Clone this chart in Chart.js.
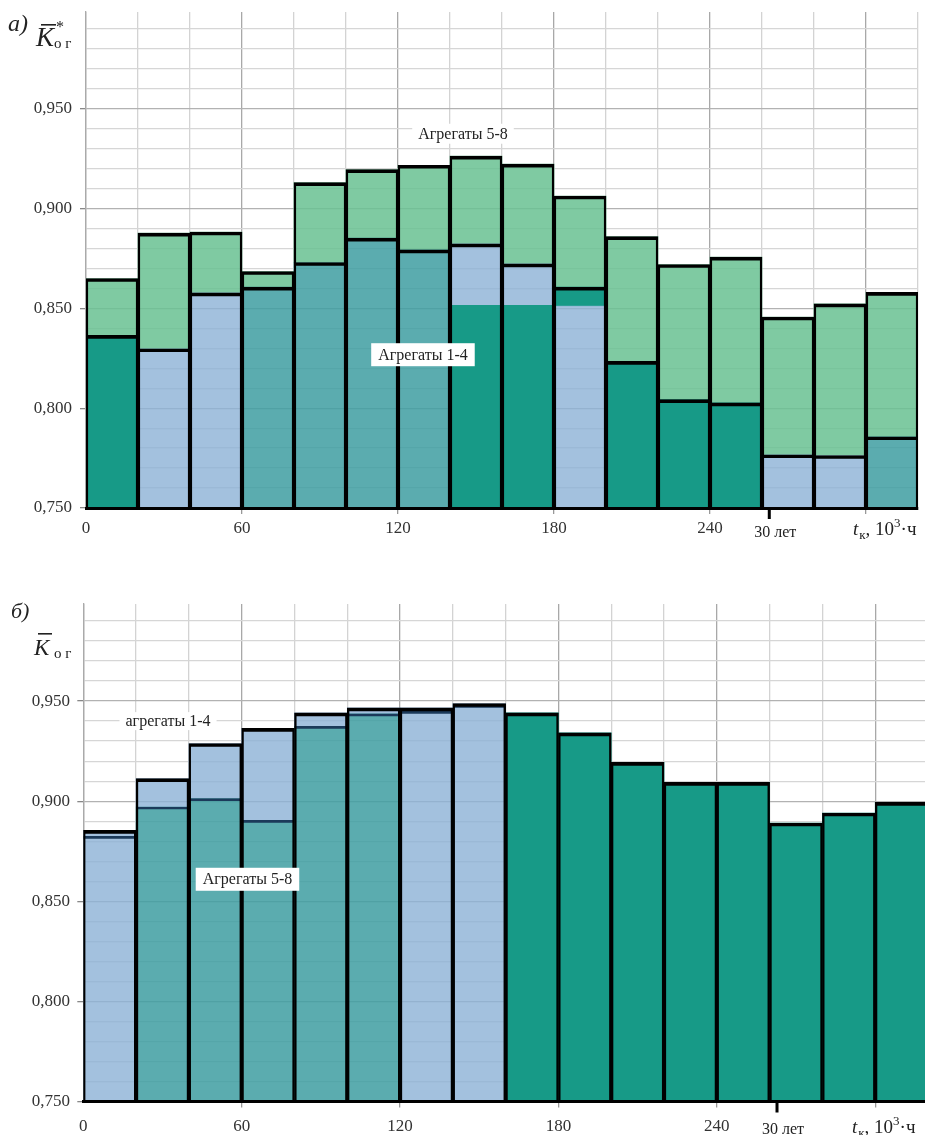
<!DOCTYPE html>
<html><head><meta charset="utf-8">
<script src="https://cdn.jsdelivr.net/npm/chart.js@4.4.1/dist/chart.umd.min.js"></script>
<style>
html,body{margin:0;padding:0;background:#fff;width:925px;height:1135px;overflow:hidden;position:relative;}
#wa{position:absolute;left:0;top:0;width:925px;height:545px;}
#wb{position:absolute;left:0;top:580px;width:935px;height:555px;}
canvas{display:block;}
</style></head><body>
<div id="wa"><canvas id="ca" width="925" height="545"></canvas></div>
<div id="wb"><canvas id="cb" width="935" height="555"></canvas></div>
<script>
// ---------- data ----------
// operating time bins, 10^3 h (centres of 20-unit intervals)
const binCenters = [10,30,50,70,90,110,130,150,170,190,210,230,250,270,290,310];
const xTickLabels = ['0','60','120','180','240'];
const yTickLabels = ['0,750','0,800','0,850','0,900','0,950'];

// panel а) : K*og
const aggr58A = [0.865,0.8877,0.8883,0.8685,0.913,0.9195,0.9217,0.9263,0.9223,0.9063,0.886,0.872,0.8757,0.8457,0.8523,0.858];
const aggr14A = [0.8365,0.8298,0.8578,0.8607,0.873,0.8852,0.8793,0.8823,0.8723,0.8607,0.8235,0.8043,0.8027,0.7767,0.7763,0.7857];
const splitA  = [null,null,null,null,null,null,null,0.8515,0.8515,0.8512,null,null,null,null,null,null];

// panel б) : Kog
const aggr14B = [0.8854,0.9113,0.9288,0.9364,0.9441,0.9466,0.9466,0.9488,null,null,null,null,null,null,null,null];
const aggr58B = [0.8824,0.8971,0.9013,0.8904,0.9374,0.9436,0.9449,0.9478,0.9441,0.9341,0.9194,0.9094,0.9094,0.8891,0.8941,0.8994];

const serviceLife = 262.8; // 30 years in 10^3 h

// ---------- styles ----------
const lowerKindA = ['teal','blue','blue','mix','mix','mix','mix','blue','blue','teal','teal','teal','teal','blue','blue','mix'];
const splitKindA = [null,null,null,null,null,null,null,'teal','teal','blue',null,null,null,null,null,null];
const lowerKindB = ['blue','mix','mix','mix','mix','mix','blue','blue','teal','teal','teal','teal','teal','teal','teal','teal'];
const COL = {
  green:'rgba(104,193,146,0.85)',
  blue:'rgba(140,177,214,0.8)',
  mix:'rgba(62,157,161,0.85)',
  teal:'#179a87'
};
const SERIF = '"Liberation Serif","Times New Roman",serif';
const BASE = 0.75, YMAX = 0.9985;

function isMajorY(v){ return Math.abs(Math.round(v*1000) % 50) < 1e-6; }

function buildScales(yPad, xPad, yWidth){
  const yTicks = []; for (let i=0;i<=24;i++) yTicks.push(+(BASE + i*0.01).toFixed(3));
  const xTicks = []; for (let v=0; v<=320; v+=20) xTicks.push(v);
  return {
    x:{type:'linear',min:0,max:320,offset:false,
      afterBuildTicks:s=>{s.ticks = xTicks.map(v=>({value:v}));},
      afterFit:s=>{s.height=30; s.paddingLeft=0; s.paddingRight=0; s.paddingTop=0; s.paddingBottom=0;},
      ticks:{autoSkip:false,maxRotation:0,padding:xPad,color:'#333',font:{family:SERIF,size:17},
        callback:v=>{const t=String(v); return xTickLabels.includes(t)?t:'';}},
      grid:{offset:false,color:c=>(c.tick && c.tick.value%60===0)?'#a8a8a8':'#d3d3d3',lineWidth:1.3,tickLength:6,
        tickColor:c=>(c.tick && c.tick.value%60===0 && c.tick.value>0)?'#999':'rgba(0,0,0,0)'},
      border:{display:true,color:'#000',width:3,z:2}
    },
    y:{type:'linear',min:BASE,max:YMAX,
      afterBuildTicks:s=>{s.ticks = yTicks.map(v=>({value:v}));},
      afterFit:s=>{s.width=yWidth; s.paddingTop=0; s.paddingBottom=0; s.paddingLeft=0; s.paddingRight=0;},
      ticks:{autoSkip:false,padding:yPad,color:'#333',font:{family:SERIF,size:17},
        callback:v=>{const t=v.toFixed(3).replace('.',','); return yTickLabels.includes(t)?t:'';}},
      grid:{color:c=>(c.tick && isMajorY(c.tick.value))?'#b2b2b2':'#d6d6d6',lineWidth:1.3,tickLength:6,
        tickColor:c=>(c.tick && isMajorY(c.tick.value))?'#888':'rgba(0,0,0,0)'},
      border:{display:true,color:'#aaa',width:1.3}
    }
  };
}

function seg(lo, hi, kinds){
  const pts=[], cols=[];
  binCenters.forEach((x,i)=>{
    const a = typeof lo==='function'?lo(i):lo[i];
    const b = typeof hi==='function'?hi(i):hi[i];
    if (a==null || b==null) return;
    pts.push({x, y:[a,b]});
    cols.push(kinds ? COL[kinds(i)] : 'rgba(0,0,0,0)');
  });
  return {pts, cols};
}
function fillDs(s, order){
  return {data:s.pts, backgroundColor:s.cols, borderWidth:0, grouped:false, order,
          barPercentage:1, categoryPercentage:1};
}
function lineDs(s, bw, color, order){
  return {data:s.pts, backgroundColor:'rgba(0,0,0,0)', borderColor:color, borderWidth:bw,
          borderSkipped:false, grouped:false, order, barPercentage:1, categoryPercentage:1};
}

function boxedLabel(ctx, text, cx, cy, padX, h){
  ctx.font = '16px '+SERIF;
  const w = ctx.measureText(text).width;
  ctx.fillStyle = '#fff';
  ctx.fillRect(cx - w/2 - padX, cy - h/2, w + 2*padX, h);
  ctx.fillStyle = '#222'; ctx.textAlign='center'; ctx.textBaseline='middle';
  ctx.fillText(text, cx, cy+1);
}
function axisTitle(ctx, x, base){
  ctx.textAlign='left'; ctx.textBaseline='alphabetic'; ctx.fillStyle='#222';
  ctx.font='italic 19px '+SERIF; ctx.fillText('t', x, base); let cx = x + ctx.measureText('t').width + 1;
  ctx.font='13px '+SERIF; ctx.fillText('к', cx, base+4); cx += ctx.measureText('к').width;
  ctx.font='19px '+SERIF; ctx.fillText(', 10', cx, base); cx += ctx.measureText(', 10').width;
  ctx.font='13px '+SERIF; ctx.fillText('3', cx, base-8); cx += ctx.measureText('3').width;
  ctx.font='19px '+SERIF; ctx.fillText('·ч', cx, base);
}
function lifeMark(chart, base){
  const {ctx, chartArea, scales} = chart;
  const x = scales.x.getPixelForValue(serviceLife);
  ctx.fillStyle='#000'; ctx.fillRect(x-1.5, chartArea.bottom, 3, 11);
  ctx.font='16px '+SERIF; ctx.textAlign='left'; ctx.textBaseline='alphabetic'; ctx.fillStyle='#222';
  ctx.fillText('30 лет', x-15, base);
}

const commonOpts = {
  responsive:false, animation:false, devicePixelRatio:1,
  plugins:{legend:{display:false}, tooltip:{enabled:false}}
};

// ---------- panel а ----------
const aGreen = seg(aggr14A, aggr58A, ()=> 'green');
const aLower = seg(i=> splitA[i]!=null?splitA[i]:BASE, aggr14A, i=>lowerKindA[i]);
const aSplit = seg(i=> splitA[i]!=null?BASE:null, splitA, i=>splitKindA[i]);
const aOut58 = seg(()=>BASE, aggr58A);
const aOut14 = seg(()=>BASE, aggr14A);

new Chart(document.getElementById('ca'), {
  type:'bar',
  data:{datasets:[
    lineDs(aOut14, {top:3,left:0,right:0,bottom:0}, '#000', 0),
    lineDs(aOut58, {top:3,left:1.75,right:1.75,bottom:0}, '#000', 1),
    fillDs(aSplit, 3),
    fillDs(aLower, 4),
    fillDs(aGreen, 5)
  ]},
  options:Object.assign({}, commonOpts, {
    layout:{padding:{left:0,right:7,top:12,bottom:7}},
    scales:buildScales(8, 4, 86)
  }),
  plugins:[{id:'annA', afterDraw(chart){
    const {ctx, scales} = chart; ctx.save();
    boxedLabel(ctx,'Агрегаты 5-8', scales.x.getPixelForValue(145), scales.y.getPixelForValue(0.9375), 6, 20);
    boxedLabel(ctx,'Агрегаты 1-4', scales.x.getPixelForValue(129.6), scales.y.getPixelForValue(0.8268), 7, 23);
    lifeMark(chart, 537);
    axisTitle(ctx, 853, 535);
    ctx.fillStyle='#222'; ctx.textAlign='left'; ctx.textBaseline='alphabetic';
    ctx.font='italic 24px '+SERIF; ctx.fillText('а)', 8, 31);
    ctx.font='italic 27px '+SERIF; ctx.fillText('K', 36, 46);
    ctx.fillRect(41, 24, 15, 1.6);
    ctx.font='16px '+SERIF; ctx.fillText('*', 56, 32);
    ctx.font='15px '+SERIF; ctx.fillText('о г', 54, 48);
    ctx.restore();
  }}]
});

// ---------- panel б ----------
const bUpper = seg(i=> aggr14B[i]!=null?aggr58B[i]:null, aggr14B, ()=> 'blue');
const bLower = seg(()=>BASE, aggr58B, i=>lowerKindB[i]);
const bInner = seg(i=> aggr14B[i]!=null?BASE:null, aggr58B);
const bOut   = seg(()=>BASE, i=> aggr14B[i]!=null?aggr14B[i]:aggr58B[i]);

new Chart(document.getElementById('cb'), {
  type:'bar',
  data:{datasets:[
    lineDs(bOut, {top:3,left:1.75,right:1.75,bottom:0}, '#000', 0),
    lineDs(bInner, {top:2,left:0,right:0,bottom:0}, '#1b3a5a', 1),
    fillDs(bLower, 4),
    fillDs(bUpper, 5)
  ]},
  options:Object.assign({}, commonOpts, {
    layout:{padding:{left:0,right:7,top:24,bottom:3.5}},
    scales:buildScales(7.3, 8.6, 83.3)
  }),
  plugins:[{id:'annB', afterDraw(chart){
    const {ctx, scales} = chart; ctx.save();
    boxedLabel(ctx,'агрегаты 1-4', scales.x.getPixelForValue(32.1), scales.y.getPixelForValue(0.94), 6, 18);
    boxedLabel(ctx,'Агрегаты 5-8', scales.x.getPixelForValue(62.2), scales.y.getPixelForValue(0.861), 7, 23);
    lifeMark(chart, 554);
    axisTitle(ctx, 852, 553);
    ctx.fillStyle='#222'; ctx.textAlign='left'; ctx.textBaseline='alphabetic';
    ctx.font='italic 22px '+SERIF; ctx.fillText('б)', 11, 38);
    ctx.font='italic 23px '+SERIF; ctx.fillText('K', 34, 75);
    ctx.fillRect(38, 53, 14, 1.6);
    ctx.font='15px '+SERIF; ctx.fillText('о г', 54, 78);
    ctx.restore();
  }}]
});
</script>
</body></html>
